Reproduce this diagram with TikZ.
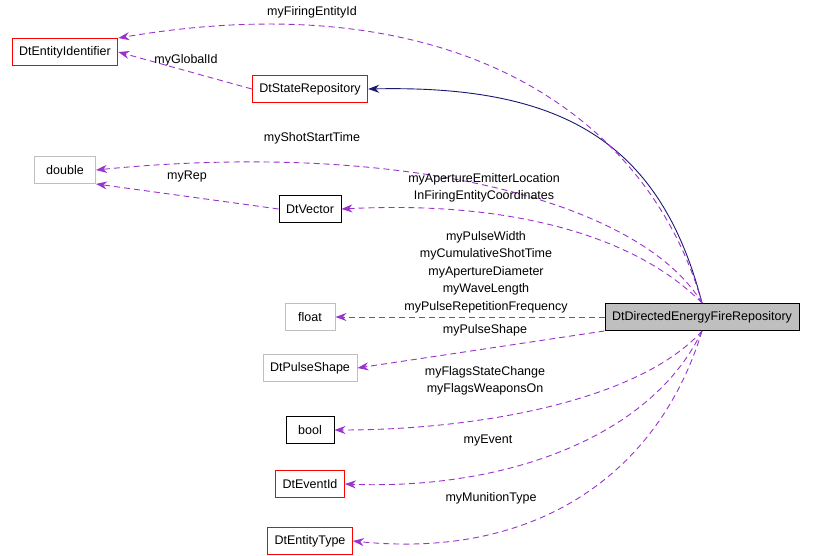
\documentclass[tikz,border=0pt]{standalone}
\usepackage{fontspec}
\setmainfont{Liberation Sans}
\usetikzlibrary{arrows.meta}
\definecolor{edgepurple}{HTML}{9A32CD}
\definecolor{navyedge}{HTML}{191970}
\tikzset{cls/.style={draw,minimum height=27pt,inner xsep=7pt,line width=0.9pt,font=\fontsize{12.5}{14}\selectfont},
  redc/.style={cls,draw=red},
  grayc/.style={cls,draw=gray!50},
  blackc/.style={cls,draw=black},
  use/.style={draw=edgepurple,line width=0.9pt,dash pattern=on 6pt off 4pt,-{Stealth[length=11pt,width=8pt]}},
  inh/.style={draw=navyedge,line width=0.9pt,-{Stealth[length=11pt,width=8pt]}},
  lbl/.style={font=\fontsize{12.5}{17.5}\selectfont,align=center}}
\begin{document}
\begin{tikzpicture}[x=1pt,y=-1pt]
      \useasboundingbox (0,0) rectangle (813,556);
      \node[redc] (ident) at (65,52) {DtEntityIdentifier};
      \node[redc] (state) at (310,89) {DtStateRepository};
      \node[grayc,minimum width=61pt] (double) at (65,170) {double};
      \node[blackc] (vector) at (310,209) {DtVector};
      \node[grayc,minimum width=50pt] (float) at (310,317) {float};
      \node[grayc] (pulse) at (310,368) {DtPulseShape};
      \node[blackc,minimum width=48pt] (bool) at (310,430) {bool};
      \node[redc] (event) at (310,484) {DtEventId};
      \node[redc] (etype) at (310,541) {DtEntityType};
      \node[cls,fill=gray!50] (main) at (702,317) {DtDirectedEnergyFireRepository};
      % inheritance
      \draw[inh] (main.north) .. controls (660,140) and (560,85) .. (state.east);
      % members
      \draw[use] (main.north) .. controls (650,120) and (460,-20) .. (ident.north east);
      \draw[use] (state.west) -- (ident.east);
      \draw[use] (main.north) .. controls (640,200) and (400,140) .. (double.east);
      \draw[use] (vector.west) -- (double.south east);
      \draw[use] (main.north) .. controls (640,240) and (520,200) .. (vector.east);
      \draw[use] (main.west) -- (float.east);
      \draw[use] (main.south west) -- (pulse.east);
      \draw[use] (main.south) .. controls (640,400) and (480,430) .. (bool.east);
      \draw[use] (main.south) .. controls (650,440) and (500,490) .. (event.east);
      \draw[use] (main.south) .. controls (660,470) and (540,560) .. (etype.east);
      % labels
      \node[lbl] (l1) at (312,12) {myFiringEntityId};
      \node[lbl] (l2) at (186,60) {myGlobalId};
      \node[lbl] (l3) at (312,138) {myShotStartTime};
      \node[lbl] (l4) at (187,176) {myRep};
      \node[lbl] (l5) at (484,188) {myApertureEmitterLocation\\InFiringEntityCoordinates};
      \node[lbl] (l6) at (486,272) {myPulseWidth\\myCumulativeShotTime\\myApertureDiameter\\myWaveLength\\myPulseRepetitionFrequency};
      \node[lbl] (l7) at (485,330) {myPulseShape};
      \node[lbl] (l8) at (485,381) {myFlagsStateChange\\myFlagsWeaponsOn};
      \node[lbl] (l9) at (488,440) {myEvent};
      \node[lbl] (l10) at (491,498) {myMunitionType};
\end{tikzpicture}
\end{document}
